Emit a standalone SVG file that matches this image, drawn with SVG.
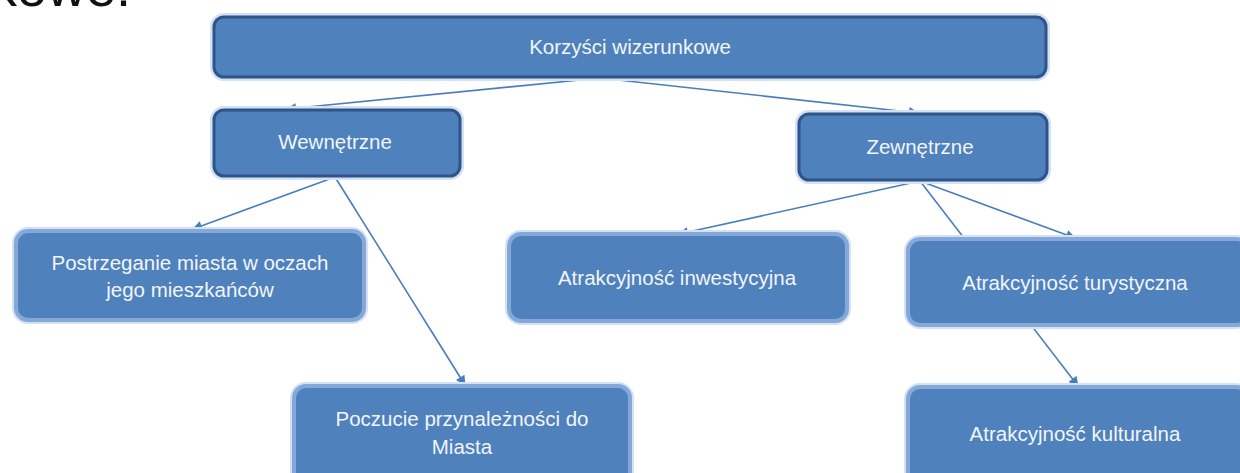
<svg xmlns="http://www.w3.org/2000/svg" width="1240" height="473" viewBox="0 0 1240 473">
<style>
.glow{fill:none;stroke:#d3e1f2;stroke-width:8}
.top{fill:#4f81bd;stroke:#2f5489;stroke-width:3}
.low{fill:#4f81bd;stroke:#84a9d8;stroke-width:4}
.t{font-family:"Liberation Sans",Arial,sans-serif;font-size:20.5px;fill:#f2f5fa;text-anchor:middle}
.c{stroke:#4a7ebb;stroke-width:1.6;fill:none;marker-end:url(#ah)}
</style>
<defs>
<marker id="ah" viewBox="0 0 10 10" refX="9" refY="5" markerWidth="11" markerHeight="10" markerUnits="userSpaceOnUse" orient="auto">
<path d="M0,0 L10,5 L0,10 z" fill="#4a7ebb"/>
</marker>
</defs>
<rect width="1240" height="473" fill="#ffffff"/>
<text x="-10" y="6" font-family="Liberation Sans, Arial, sans-serif" font-size="54" fill="#111">kowe:</text>
<g id="connectors">
<line class="c" x1="600" y1="78" x2="287" y2="109"/>
<line class="c" x1="600" y1="78" x2="918" y2="113"/>
<line class="c" x1="335" y1="177" x2="193" y2="229"/>
<line class="c" x1="335" y1="177" x2="465" y2="385"/>
<line class="c" x1="920" y1="181" x2="679" y2="234"/>
<line class="c" x1="920" y1="181" x2="1075" y2="238"/>
<line class="c" x1="920" y1="181" x2="1078" y2="386"/>
</g>
<g id="n-korzysci">
<rect class="glow" x="214" y="17" width="832" height="60" rx="10"/>
<rect class="top" x="214" y="17" width="832" height="60" rx="10"/>
<text class="t" x="630" y="54">Korzyści wizerunkowe</text>
</g>
<g id="n-wewnetrzne">
<rect class="glow" x="214" y="110" width="246" height="66" rx="10"/>
<rect class="top" x="214" y="110" width="246" height="66" rx="10"/>
<text class="t" x="335" y="149">Wewnętrzne</text>
</g>
<g id="n-zewnetrzne">
<rect class="glow" x="799" y="114" width="248" height="66" rx="10"/>
<rect class="top" x="799" y="114" width="248" height="66" rx="10"/>
<text class="t" x="920" y="154">Zewnętrzne</text>
</g>
<g id="n-postrzeganie">
<rect class="glow" x="16" y="231" width="348" height="89" rx="12"/>
<rect class="low" x="16" y="231" width="348" height="89" rx="12"/>
<text class="t" x="190" y="270">Postrzeganie miasta w oczach</text>
<text class="t" x="190" y="297">jego mieszkańców</text>
</g>
<g id="n-inwestycyjna">
<rect class="glow" x="509" y="234" width="338" height="87" rx="12"/>
<rect class="low" x="509" y="234" width="338" height="87" rx="12"/>
<text class="t" x="677" y="285">Atrakcyjność inwestycyjna</text>
</g>
<g id="n-turystyczna">
<rect class="glow" x="908" y="239" width="340" height="86" rx="12"/>
<rect class="low" x="908" y="239" width="340" height="86" rx="12"/>
<text class="t" x="1075" y="290">Atrakcyjność turystyczna</text>
</g>
<g id="n-poczucie">
<rect class="glow" x="294" y="386" width="336" height="100" rx="12"/>
<rect class="low" x="294" y="386" width="336" height="100" rx="12"/>
<text class="t" x="462" y="426">Poczucie przynależności do</text>
<text class="t" x="462" y="454">Miasta</text>
</g>
<g id="n-kulturalna">
<rect class="glow" x="908" y="387" width="340" height="100" rx="12"/>
<rect class="low" x="908" y="387" width="340" height="100" rx="12"/>
<text class="t" x="1075" y="441">Atrakcyjność kulturalna</text>
</g>
</svg>
